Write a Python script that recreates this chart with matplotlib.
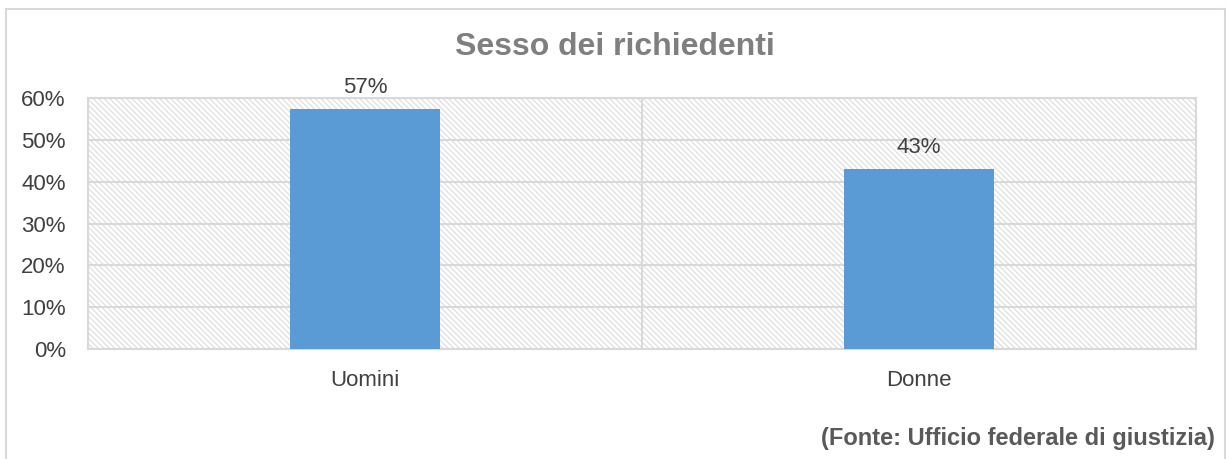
import matplotlib
matplotlib.use("Agg")
import matplotlib.pyplot as plt
from matplotlib.patches import Rectangle
from matplotlib.ticker import FuncFormatter

categories = ["Uomini", "Donne"]
values = [57.3, 43.1]
labels = ["57%", "43%"]
yticks = [0, 10, 20, 30, 40, 50, 60]

plt.rcParams['font.family'] = ['Liberation Sans', 'DejaVu Sans']
plt.rcParams['hatch.color'] = '#dcdcdc'
plt.rcParams['hatch.linewidth'] = 0.8

W, H = 1227, 459
fig = plt.figure(figsize=(W / 100, H / 100), dpi=100)
ax = fig.add_axes([88 / W, 1 - 349 / H, (1196 - 88) / W, (349 - 98) / H])

# hatched background
ax.add_patch(Rectangle((0, 0), 1, 1, transform=ax.transAxes, facecolor='white',
                       edgecolor='#dcdcdc', hatch='\\' * 6, linewidth=0, zorder=0))

x = list(range(len(categories)))
bars = ax.bar(x, values, width=0.272, color='#5b9bd5', zorder=3)
for xi, v, lab in zip(x, values, labels):
    ax.text(xi, v + 2.6, lab, ha='center', va='bottom', fontsize=16, color='#404040')

ax.set_xlim(-0.5, 1.5)
ax.set_ylim(0, 60)
ax.set_yticks(yticks)
ax.yaxis.set_major_formatter(FuncFormatter(lambda v, p: f"{int(v)}%"))
ax.set_xticks(x)
ax.set_xticklabels(categories)
ax.tick_params(axis='both', length=0, labelsize=16, labelcolor='#404040')
ax.tick_params(axis='y', pad=16)
ax.tick_params(axis='x', pad=15)
ax.yaxis.grid(True, color='#d9d9d9', linewidth=1.5, zorder=1)
ax.axvline(0.5, color='#d9d9d9', linewidth=1.5, zorder=1)
for s in ['left', 'top', 'right', 'bottom']:
    ax.spines[s].set_color('#d9d9d9')
    ax.spines[s].set_linewidth(1.5)
ax.set_axisbelow(True)

fig.text(615 / W, 1 - 47 / H, "Sesso dei richiedenti", ha='center', va='center',
         fontsize=23, fontweight='bold', color='#7f7f7f')
fig.text(1215 / W, 1 - 438 / H, "(Fonte: Ufficio federale di giustizia)", ha='right',
         va='center', fontsize=17, fontweight='bold', color='#595959')

# outer border (open at bottom)
fig.add_artist(plt.Line2D([5.5 / W, 5.5 / W], [0, 1 - 8.5 / H], transform=fig.transFigure,
                          color='#d9d9d9', linewidth=1.5))
fig.add_artist(plt.Line2D([5.5 / W, 1224.5 / W], [1 - 8.5 / H, 1 - 8.5 / H],
                          transform=fig.transFigure, color='#d9d9d9', linewidth=1.5))
fig.add_artist(plt.Line2D([1224.5 / W, 1224.5 / W], [0, 1 - 8.5 / H], transform=fig.transFigure,
                          color='#d9d9d9', linewidth=1.5))

fig.savefig("out.png", dpi=100, facecolor='white')
